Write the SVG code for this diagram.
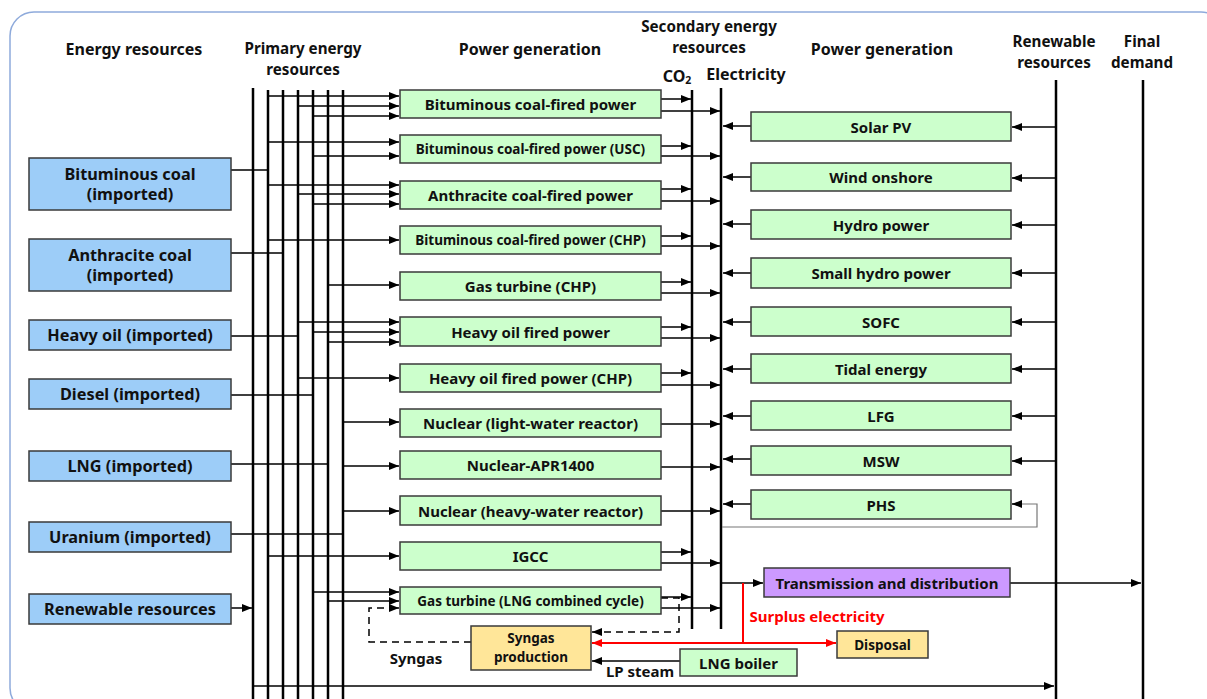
<svg xmlns="http://www.w3.org/2000/svg" width="1207" height="699" viewBox="0 0 1207 699">
<style>
text{font-family:"Noto Sans","DejaVu Sans",sans-serif;font-weight:bold;fill:#111;text-anchor:middle;dominant-baseline:central}
.h{font-size:15.2px}
.h1{font-size:16px}
.t{font-size:15px}
.l{font-size:16.3px}
.s{font-size:13.5px}
.blue{fill:#9dcdf8;stroke:#3a3a3a;stroke-width:1.5}
.green{fill:#ccffcc;stroke:#3a3a3a;stroke-width:1.5}
.yel{fill:#ffe699;stroke:#3a3a3a;stroke-width:1.5}
.pur{fill:#cc99ff;stroke:#3a3a3a;stroke-width:1.5}
.bus{stroke:#000;stroke-width:2.5;fill:none}
.c{stroke:#000;stroke-width:1.5;fill:none;marker-end:url(#a)}
.d{stroke:#000;stroke-width:1.5;fill:none;stroke-dasharray:7,5}
.r{stroke:#ff0000;stroke-width:2;fill:none}
</style>
<defs>
<marker id="a" markerUnits="userSpaceOnUse" markerWidth="10" markerHeight="8" refX="10" refY="4" orient="auto"><path d="M0,0 L10,4 L0,8 z" fill="#000"/></marker>
<marker id="ar" markerUnits="userSpaceOnUse" markerWidth="10" markerHeight="8" refX="10" refY="4" orient="auto"><path d="M0,0 L10,4 L0,8 z" fill="#ff0000"/></marker>
</defs>
<rect x="10" y="12" width="1215" height="700" rx="24" fill="#fff" stroke="#8eaadb" stroke-width="1.5"/>

<g id="headers">
<text class="h1" x="134" y="49">Energy resources</text>
<text class="h" x="303" y="48">Primary energy</text>
<text class="h" x="303" y="69">resources</text>
<text class="h1" x="530" y="49">Power generation</text>
<text class="h" x="709" y="26">Secondary energy</text>
<text class="h" x="709" y="47">resources</text>
<text class="h1" x="677" y="76">CO<tspan font-size="10.5" dy="4">2</tspan></text>
<text class="h1" x="746" y="74">Electricity</text>
<text class="h1" x="882" y="49">Power generation</text>
<text class="h" x="1054" y="41">Renewable</text>
<text class="h" x="1054" y="62">resources</text>
<text class="h" x="1142" y="41">Final</text>
<text class="h" x="1142" y="62">demand</text>
</g>

<g id="buses">
<path class="bus" d="M253,88V699M268,90V699M283,90V699M298,90V699M313,90V699M328,90V699M343,90V699"/>
<path class="bus" d="M692,90V629M721,88V629"/>
<path class="bus" d="M1056,80V699M1143,80V699"/>
</g>

<g id="connectors">
<path class="c" d="M231,170H267M231,253H282M231,336H297M231,395H312M231,464H327M231,534H342M231,608H252"/>
<path class="c" d="M268,96H399"/><path class="c" d="M298,106H399"/><path class="c" d="M313,116H399"/>
<path class="c" d="M268,142H399"/><path class="c" d="M313,156H399"/>
<path class="c" d="M268,185H399"/><path class="c" d="M298,194H399"/><path class="c" d="M313,204H399"/>
<path class="c" d="M268,240H399"/>
<path class="c" d="M328,285H399"/>
<path class="c" d="M298,322H399"/><path class="c" d="M313,332H399"/><path class="c" d="M328,342H399"/>
<path class="c" d="M298,378H399"/>
<path class="c" d="M343,422H399"/>
<path class="c" d="M343,466H399"/>
<path class="c" d="M343,511H399"/>
<path class="c" d="M268,556H399"/>
<path class="c" d="M313,592H399"/><path class="c" d="M328,601H399"/>
<path class="d" d="M471,642H369V608H390"/><path class="c" d="M389,608H399"/>
<path class="d" d="M661,598H679V632H600"/><path class="c" d="M601,632H592"/>
<path class="c" d="M661,99H691"/><path class="c" d="M661,146H691"/><path class="c" d="M661,189H691"/><path class="c" d="M661,236H691"/><path class="c" d="M661,282H691"/><path class="c" d="M661,327H691"/><path class="c" d="M661,373H691"/><path class="c" d="M661,552H691"/><path class="c" d="M661,597H691"/>
<path class="c" d="M661,111H720"/><path class="c" d="M661,156H720"/><path class="c" d="M661,201H720"/><path class="c" d="M661,246H720"/><path class="c" d="M661,293H720"/><path class="c" d="M661,338H720"/><path class="c" d="M661,385H720"/><path class="c" d="M661,424H720"/><path class="c" d="M661,467H720"/><path class="c" d="M661,511H720"/><path class="c" d="M661,563H720"/><path class="c" d="M661,608H720"/>
<path class="c" d="M751,126H723"/><path class="c" d="M751,177H723"/><path class="c" d="M751,224H723"/><path class="c" d="M751,273H723"/><path class="c" d="M751,322H723"/><path class="c" d="M751,369H723"/><path class="c" d="M751,416H723"/><path class="c" d="M751,459H723"/><path class="c" d="M751,504H723"/>
<path class="c" d="M1056,127H1012"/><path class="c" d="M1056,178H1012"/><path class="c" d="M1056,225H1012"/><path class="c" d="M1056,273H1012"/><path class="c" d="M1056,322H1012"/><path class="c" d="M1056,369H1012"/><path class="c" d="M1056,416H1012"/><path class="c" d="M1056,461H1012"/>
<path d="M722,527H1037V504H1020" stroke="#777" stroke-width="1.2" fill="none"/><path class="c" d="M1022,504H1012"/>
<path class="c" d="M722,583H763"/>
<path class="c" d="M1010,583H1141"/>
<path class="r" d="M743,583V643"/>
<path class="r" d="M743,643H592" marker-end="url(#ar)"/>
<path class="r" d="M743,643H836" marker-end="url(#ar)"/>
<path class="c" d="M680,661H592"/>
<path class="c" d="M253,686H1054" stroke="#444"/>
</g>

<g id="n-bit"><rect class="blue" x="29" y="158" width="202" height="52"/><text class="l" x="130" y="174">Bituminous coal</text><text class="l" x="130" y="194">(imported)</text></g>
<g id="n-ant"><rect class="blue" x="29" y="239" width="202" height="52"/><text class="l" x="130" y="255">Anthracite coal</text><text class="l" x="130" y="275">(imported)</text></g>
<g id="n-hoil"><rect class="blue" x="29" y="320" width="202" height="30"/><text class="l" x="130" y="335">Heavy oil (imported)</text></g>
<g id="n-diesel"><rect class="blue" x="29" y="379" width="202" height="30"/><text class="l" x="130" y="394">Diesel (imported)</text></g>
<g id="n-lng"><rect class="blue" x="29" y="451" width="202" height="30"/><text class="l" x="130" y="466">LNG (imported)</text></g>
<g id="n-ur"><rect class="blue" x="29" y="522" width="202" height="30"/><text class="l" x="130" y="537">Uranium (imported)</text></g>
<g id="n-ren"><rect class="blue" x="29" y="594" width="202" height="30"/><text class="l" x="130" y="609">Renewable resources</text></g>

<g id="p1"><rect class="green" x="400" y="90" width="261" height="28"/><text class="t" x="530.5" y="104">Bituminous coal-fired power</text></g>
<g id="p2"><rect class="green" x="400" y="135" width="261" height="28"/><text class="s" x="530.5" y="149">Bituminous coal-fired power (USC)</text></g>
<g id="p3"><rect class="green" x="400" y="181" width="261" height="28"/><text class="t" x="530.5" y="195">Anthracite coal-fired power</text></g>
<g id="p4"><rect class="green" x="400" y="226" width="261" height="28"/><text class="s" x="530.5" y="240">Bituminous coal-fired power (CHP)</text></g>
<g id="p5"><rect class="green" x="400" y="272" width="261" height="28"/><text class="t" x="530.5" y="286">Gas turbine (CHP)</text></g>
<g id="p6"><rect class="green" x="400" y="317" width="261" height="29"/><text class="t" x="530.5" y="331.5">Heavy oil fired power</text></g>
<g id="p7"><rect class="green" x="400" y="364" width="261" height="28"/><text class="t" x="530.5" y="378">Heavy oil fired power (CHP)</text></g>
<g id="p8"><rect class="green" x="400" y="409" width="261" height="28"/><text class="t" x="530.5" y="423">Nuclear (light-water reactor)</text></g>
<g id="p9"><rect class="green" x="400" y="451" width="261" height="28"/><text class="t" x="530.5" y="465">Nuclear-APR1400</text></g>
<g id="p10"><rect class="green" x="400" y="496" width="261" height="29"/><text class="t" x="530.5" y="510.5">Nuclear (heavy-water reactor)</text></g>
<g id="p11"><rect class="green" x="400" y="542" width="261" height="28"/><text class="t" x="530.5" y="556">IGCC</text></g>
<g id="p12"><rect class="green" x="400" y="587" width="261" height="27"/><text class="s" x="530.5" y="600.5">Gas turbine (LNG combined cycle)</text></g>

<g id="r1"><rect class="green" x="751" y="112" width="260" height="29"/><text class="t" x="881" y="126.5">Solar PV</text></g>
<g id="r2"><rect class="green" x="751" y="163" width="260" height="28"/><text class="t" x="881" y="177">Wind onshore</text></g>
<g id="r3"><rect class="green" x="751" y="210" width="260" height="29"/><text class="t" x="881" y="224.5">Hydro power</text></g>
<g id="r4"><rect class="green" x="751" y="258" width="260" height="30"/><text class="t" x="881" y="273">Small hydro power</text></g>
<g id="r5"><rect class="green" x="751" y="307" width="260" height="29"/><text class="t" x="881" y="321.5">SOFC</text></g>
<g id="r6"><rect class="green" x="751" y="354" width="260" height="29"/><text class="t" x="881" y="368.5">Tidal energy</text></g>
<g id="r7"><rect class="green" x="751" y="401" width="260" height="29"/><text class="t" x="881" y="415.5">LFG</text></g>
<g id="r8"><rect class="green" x="751" y="446" width="260" height="29"/><text class="t" x="881" y="460.5">MSW</text></g>
<g id="r9"><rect class="green" x="751" y="490" width="260" height="29"/><text class="t" x="881" y="504.5">PHS</text></g>

<g id="td"><rect class="pur" x="764" y="568" width="246" height="29"/><text class="t" x="887" y="582.5">Transmission and distribution</text></g>
<g id="syngas"><rect class="yel" x="471" y="626" width="120" height="44"/><text class="s" x="531" y="638">Syngas</text><text class="s" x="531" y="657">production</text></g>
<g id="disposal"><rect class="yel" x="837" y="631" width="91" height="27"/><text class="s" x="882.5" y="644.5">Disposal</text></g>
<g id="lngb"><rect class="green" x="680" y="649" width="117" height="27"/><text class="t" x="738.5" y="662.5">LNG boiler</text></g>

<g id="labels">
<text class="t" x="416" y="658">Syngas</text>
<text class="t" x="640" y="671">LP steam</text>
<text class="t" x="817" y="616" style="fill:#ff0000">Surplus electricity</text>
</g>
</svg>
